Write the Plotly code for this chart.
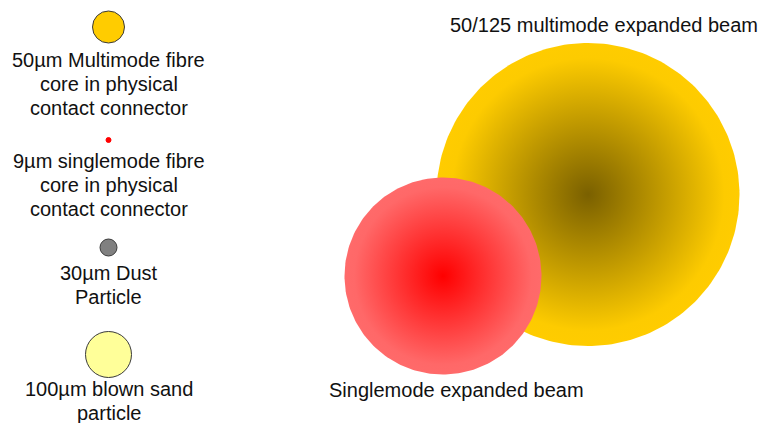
import numpy as np
import plotly.graph_objects as go

# ---- data ----
particle_names = [
    ["50µm Multimode fibre", "core in physical", "contact connector"],
    ["9µm singlemode fibre", "core in physical", "contact connector"],
    ["30µm Dust", "Particle"],
    ["100µm blown sand", "particle"],
]
particle_diameters_um = [50, 9, 30, 100]
beam_names = ["50/125 multimode expanded beam", "Singlemode expanded beam"]

# ---- styles / layout (pixel space) ----
W, H = 762, 423
FONT = "Liberation Sans, Arial, sans-serif"
FS = 20
particle_x = 108.5
particle_y = [27, 140, 247.5, 354.5]
particle_px = [32, 5, 17, 46]
particle_fill = ["#FFCC00", "#FF0000", "#808080", "#FFFF99"]
particle_line = ["#3a3a3a", "#FF0000", "#3a3a3a", "#3a3a3a"]
label_first_y = [60, 161, 273, 389]
line_step = 23.8

beam_cx = [588, 443]
beam_cy = [194.5, 276]
beam_r = [151.5, 98.5]
beam_scales = [
    [[0, "#7A6000"], [0.9, "#FDCB00"], [1, "#FFCC00"]],
    [[0, "#FF0000"], [0.9, "#FF6868"], [1, "#FF6A6A"]],
]

fig = go.Figure()

# expanded beams (gradient-filled circles)
theta = np.linspace(0, 2 * np.pi, 241)
for cx, cy, r, cs in zip(beam_cx, beam_cy, beam_r, beam_scales):
    fig.add_trace(go.Scatter(
        x=cx + r * np.cos(theta), y=cy + r * np.sin(theta),
        mode="lines", line=dict(width=0), fill="toself",
        fillgradient=dict(type="radial", colorscale=cs),
        hoverinfo="skip", showlegend=False))

# particles
fig.add_trace(go.Scatter(
    x=[particle_x] * len(particle_diameters_um), y=particle_y,
    mode="markers",
    marker=dict(size=particle_px, color=particle_fill, opacity=1,
                line=dict(color=particle_line, width=1)),
    text=[f"{d} µm" for d in particle_diameters_um],
    hoverinfo="text", showlegend=False))

# labels
for lines, y0 in zip(particle_names, label_first_y):
    for i, t in enumerate(lines):
        fig.add_annotation(x=particle_x, y=y0 + i * line_step, text=t,
                           showarrow=False, xanchor="center", yanchor="middle",
                           font=dict(family=FONT, size=FS, color="#111111"))

fig.add_annotation(x=760, y=25, text=beam_names[0], showarrow=False,
                   xanchor="right", yanchor="middle",
                   font=dict(family=FONT, size=FS, color="#111111"))
fig.add_annotation(x=327, y=390, text=beam_names[1], showarrow=False,
                   xanchor="left", yanchor="middle",
                   font=dict(family=FONT, size=FS, color="#111111"))

fig.update_layout(
    width=W, height=H, margin=dict(l=0, r=0, t=0, b=0),
    paper_bgcolor="white", plot_bgcolor="white",
    xaxis=dict(range=[0, W], visible=False, fixedrange=True),
    yaxis=dict(range=[H, 0], visible=False, fixedrange=True),
)

fig.write_html("out.html", config={"displayModeBar": False},
               post_script="document.body.style.margin='0';document.body.style.overflow='hidden';")
